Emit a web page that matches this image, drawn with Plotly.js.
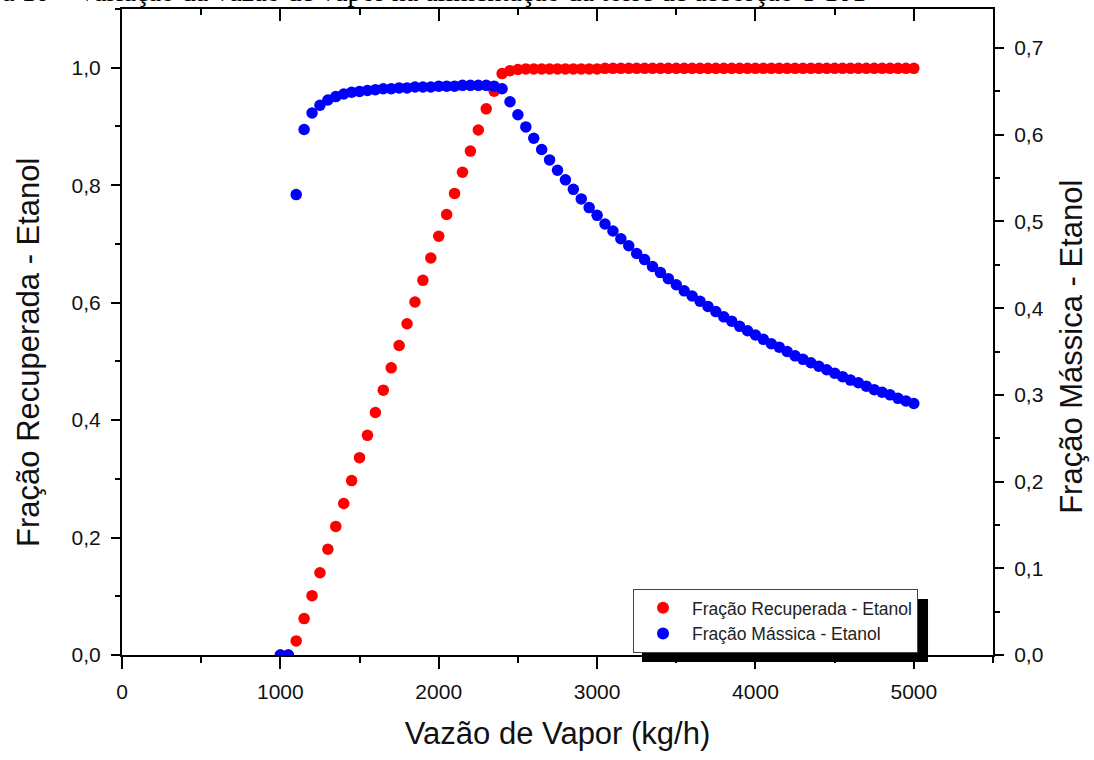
<!DOCTYPE html>
<html>
<head>
<meta charset="utf-8">
<script src="https://cdn.plot.ly/plotly-3.0.1.min.js"></script>
<style>
  html, body { margin: 0; padding: 0; background: #ffffff; }
  #chart { width: 1094px; height: 760px; }
</style>
</head>
<body>
<div id="chart"></div>
<script>
// ---- Data ----
const vazaoVapor = [
  1000, 1050, 1100, 1150, 1200, 1250, 1300, 1350, 1400, 1450,
  1500, 1550, 1600, 1650, 1700, 1750, 1800, 1850, 1900, 1950,
  2000, 2050, 2100, 2150, 2200, 2250, 2300, 2350, 2400, 2450,
  2500, 2550, 2600, 2650, 2700, 2750, 2800, 2850, 2900, 2950,
  3000, 3050, 3100, 3150, 3200, 3250, 3300, 3350, 3400, 3450,
  3500, 3550, 3600, 3650, 3700, 3750, 3800, 3850, 3900, 3950,
  4000, 4050, 4100, 4150, 4200, 4250, 4300, 4350, 4400, 4450,
  4500, 4550, 4600, 4650, 4700, 4750, 4800, 4850, 4900, 4950,
  5000
];

const fracaoRecuperada = [
  0.000, 0.000, 0.024, 0.062, 0.101, 0.140, 0.180, 0.219, 0.258, 0.297,
  0.336, 0.374, 0.413, 0.451, 0.489, 0.527, 0.564, 0.601, 0.638, 0.676,
  0.713, 0.750, 0.786, 0.822, 0.858, 0.894, 0.930, 0.960, 0.990, 0.995,
  0.997, 0.998, 0.998, 0.998, 0.998, 0.998, 0.998, 0.998, 0.998, 0.998,
  0.998, 0.999, 0.999, 0.999, 0.999, 0.999, 0.999, 0.999, 0.999, 0.999,
  0.999, 0.999, 0.999, 0.999, 0.999, 0.999, 0.999, 0.999, 0.999, 0.999,
  0.999, 0.999, 0.999, 0.999, 0.999, 0.999, 0.999, 0.999, 0.999, 0.999,
  0.999, 0.999, 0.999, 0.999, 0.999, 0.999, 0.999, 0.999, 0.999, 0.999,
  0.999
];

const fracaoMassica = [
  0.000, 0.000, 0.531, 0.606, 0.625, 0.634, 0.640, 0.644, 0.647, 0.649,
  0.650, 0.651, 0.652, 0.653, 0.653, 0.654, 0.654, 0.655, 0.655, 0.655,
  0.656, 0.656, 0.656, 0.657, 0.657, 0.657, 0.657, 0.656, 0.653, 0.638,
  0.623, 0.609, 0.596, 0.583, 0.571, 0.559, 0.548, 0.537, 0.526, 0.516,
  0.507, 0.497, 0.489, 0.480, 0.472, 0.463, 0.456, 0.448, 0.441, 0.434,
  0.427, 0.420, 0.414, 0.408, 0.402, 0.396, 0.390, 0.385, 0.379, 0.374,
  0.369, 0.364, 0.359, 0.355, 0.350, 0.345, 0.341, 0.337, 0.333, 0.329,
  0.325, 0.321, 0.317, 0.314, 0.310, 0.306, 0.303, 0.300, 0.296, 0.293,
  0.290
];

const nomeSerie1 = 'Fração Recuperada - Etanol';
const nomeSerie2 = 'Fração Mássica - Etanol';
const tituloX = 'Vazão de Vapor (kg/h)';
const tituloY1 = 'Fração Recuperada - Etanol';
const tituloY2 = 'Fração Mássica - Etanol';
const legenda = 'a 10 – Variação da vazão de vapor na alimentação da torre de absorção T-101';

const xTicks = [0, 1000, 2000, 3000, 4000, 5000];
const y1Ticks = [0, 0.2, 0.4, 0.6, 0.8, 1.0];
const y2Ticks = [0, 0.1, 0.2, 0.3, 0.4, 0.5, 0.6, 0.7];

// ---- Plot ----
const FONT = 'Arial, "Liberation Sans", sans-serif';
const TITLE_FONT = { family: FONT, size: 31, color: '#111' };

const traces = [
  {
    type: 'scatter', mode: 'markers', name: nomeSerie1,
    x: vazaoVapor, y: fracaoRecuperada, xaxis: 'x', yaxis: 'y',
    marker: { color: '#ff0000', size: 11.5 }, cliponaxis: true
  },
  {
    type: 'scatter', mode: 'markers', name: nomeSerie2,
    x: vazaoVapor, y: fracaoMassica, xaxis: 'x', yaxis: 'y2',
    marker: { color: '#0000ff', size: 11.5 }, cliponaxis: true
  },
  {
    type: 'scatter', mode: 'markers', x: [], y: [], xaxis: 'x2', yaxis: 'y',
    showlegend: false, hoverinfo: 'skip'
  }
];

const axisCommon = {
  showgrid: false, zeroline: false, showline: true,
  linecolor: '#000', linewidth: 2, tickcolor: '#000', tickwidth: 2,
  tickfont: { family: FONT, size: 21, color: '#111' }
};

const layout = {
  width: 1094, height: 760,
  margin: { l: 122, r: 101, t: 9, b: 105, pad: 0 },
  paper_bgcolor: '#ffffff', plot_bgcolor: '#ffffff',
  separators: ',.',
  showlegend: true,
  font: { family: FONT, color: '#111' },
  xaxis: Object.assign({}, axisCommon, {
    range: [0, 5500], tickvals: xTicks, ticks: 'outside', ticklen: 12,
    ticklabelstandoff: 5,
    minor: { ticks: 'outside', ticklen: 6, dtick: 500, tickcolor: '#000', tickwidth: 2, showgrid: false },
    title: { text: tituloX, font: TITLE_FONT, standoff: 20 },
    anchor: 'y'
  }),
  xaxis2: Object.assign({}, axisCommon, {
    range: [0, 5500], tickvals: xTicks, ticks: 'inside', ticklen: 12,
    showticklabels: false, overlaying: 'x', side: 'top', anchor: 'y',
    minor: { ticks: 'inside', ticklen: 6, dtick: 500, tickcolor: '#000', tickwidth: 2, showgrid: false }
  }),
  yaxis: Object.assign({}, axisCommon, {
    range: [0, 1.1], tickvals: y1Ticks, tickformat: '.1f', ticks: 'outside', ticklen: 9,
    ticklabelstandoff: 6,
    minor: { ticks: 'outside', ticklen: 5, dtick: 0.1, tickcolor: '#000', tickwidth: 2, showgrid: false },
    anchor: 'x'
  }),
  yaxis2: Object.assign({}, axisCommon, {
    range: [0, 0.745], tickvals: y2Ticks, tickformat: '.1f', ticks: 'outside', ticklen: 9,
    ticklabelstandoff: 6,
    minor: { ticks: 'outside', ticklen: 5, dtick: 0.05, tickcolor: '#000', tickwidth: 2, showgrid: false },
    overlaying: 'y', side: 'right', anchor: 'x'
  }),
  legend: {
    x: 0.5867, y: 0.1022, xanchor: 'left', yanchor: 'top',
    bgcolor: '#ffffff', bordercolor: '#444', borderwidth: 1,
    font: { family: FONT, size: 17.5, color: '#222' },
    itemwidth: 48, tracegroupgap: 0, itemsizing: 'constant'
  },
  shapes: [
    {
      type: 'rect', xref: 'paper', yref: 'paper', layer: 'above',
      x0: 0.597, x1: 0.9254, y0: -0.011, y1: 0.0867,
      fillcolor: '#000', line: { width: 0 }
    }
  ],
  annotations: [
    {
      text: legenda, xref: 'paper', yref: 'paper', x: -0.14, y: 1,
      xanchor: 'left', yanchor: 'bottom', showarrow: false,
      font: { family: '"Liberation Serif", "Times New Roman", serif', size: 28, color: '#000' }
    },
    {
      text: tituloY1, xref: 'paper', yref: 'paper', x: -0.108, y: 0.469,
      xanchor: 'center', yanchor: 'middle', textangle: -90, showarrow: false,
      font: TITLE_FONT
    },
    {
      text: tituloY2, xref: 'paper', yref: 'paper', x: 1.0907, y: 0.477,
      xanchor: 'center', yanchor: 'middle', textangle: -90, showarrow: false,
      font: TITLE_FONT
    }
  ]
};

Plotly.newPlot('chart', traces, layout, { staticPlot: true, displayModeBar: false });
</script>
</body>
</html>
